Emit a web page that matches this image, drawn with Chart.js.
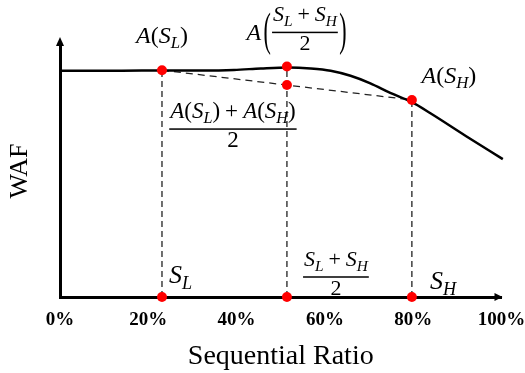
<!DOCTYPE html>
<html lang="en">
<head>
    <meta charset="UTF-8">
    <title>WAF vs Sequential Ratio</title>
    <script src="https://cdn.jsdelivr.net/npm/chart.js"></script>
    <style>
        body { margin: 0; background: #fff; }
        canvas { display: block; }
    </style>
</head>
<body>
    <canvas id="wafChart" width="525" height="373"></canvas>

    <script>
        // x ticks (percent)
        const xTicks = [0, 20, 40, 60, 80, 100];

        // WAF curve (x in %, y in arbitrary units 0-100)
        const curveX = [0, 14, 23.1, 32, 39.4, 45.5, 51.7, 56.8, 61.3, 65.8, 70.3, 74.8, 79.7, 83.9, 92, 100.3];
        const curveY = [89.8, 89.8, 89.9, 89.9, 90.1, 90.7, 91.1, 90.7, 89.8, 87.8, 84.8, 81.0, 77.3, 72.9, 63.8, 54.7];

        // marked points: S_L, (S_L+S_H)/2, S_H
        const markX = [23.1, 51.4, 79.7];
        const markY = [90.0, 91.5, 78.2];
        // chord value at the midpoint: (A(S_L) + A(S_H)) / 2
        const chordMid = 84.1;

        const FONT = '"Liberation Serif", "Times New Roman", serif';

        function parseMath(s) {
            const out = [];
            for (let i = 0; i < s.length; i++) {
                if (s[i] === "_") {
                    out.push({ t: s[i + 1], sub: true });
                    i++;
                } else {
                    out.push({ t: s[i], sub: false });
                }
            }
            return out;
        }

        function tokFont(tok, size) {
            const sz = tok.sub ? size * 0.7 : size;
            const it = /[A-Za-z]/.test(tok.t) ? "italic " : "";
            return it + sz + "px " + FONT;
        }

        function mathWidth(ctx, s, size) {
            let w = 0;
            parseMath(s).forEach(tok => {
                ctx.font = tokFont(tok, size);
                w += tok.t === " " ? size * 0.22 : ctx.measureText(tok.t).width;
            });
            return w;
        }

        function drawMath(ctx, s, x, y, size, align) {
            const w = mathWidth(ctx, s, size);
            let cx = align === "center" ? x - w / 2 : (align === "right" ? x - w : x);
            ctx.textAlign = "left";
            ctx.textBaseline = "alphabetic";
            parseMath(s).forEach(tok => {
                ctx.font = tokFont(tok, size);
                if (tok.t === " ") { cx += size * 0.22; return; }
                ctx.fillText(tok.t, cx, y + (tok.sub ? size * 0.22 : 0));
                cx += ctx.measureText(tok.t).width;
            });
            return w;
        }

        function drawFrac(ctx, num, den, cx, lineY, size) {
            const w = mathWidth(ctx, num, size);
            ctx.fillRect(cx - w / 2 - 1, lineY - 0.75, w + 2, 1.5);
            drawMath(ctx, num, cx, lineY - size * 0.5, size, "center");
            drawMath(ctx, den, cx, lineY + size * 0.8, size, "center");
            return w;
        }

        // tall thin bracket: normal glyph stretched vertically
        function drawParen(ctx, ch, x, midY, size, stretch) {
            ctx.save();
            ctx.font = size + "px " + FONT;
            ctx.textAlign = "center";
            ctx.textBaseline = "middle";
            ctx.translate(x, midY);
            ctx.scale(1, stretch);
            ctx.fillText(ch, 0, 0);
            ctx.restore();
        }

        const annotations = {
            id: "annotations",
            afterDraw(chart) {
                const ctx = chart.ctx;
                const xs = chart.scales.x, ys = chart.scales.y;
                const area = chart.chartArea;
                const xL = xs.getPixelForValue(markX[0]);
                const xM = xs.getPixelForValue(markX[1]);
                const xH = xs.getPixelForValue(markX[2]);
                const y0 = ys.getPixelForValue(0);
                const yAL = ys.getPixelForValue(markY[0]);
                const yAM = ys.getPixelForValue(markY[1]);
                const yAH = ys.getPixelForValue(markY[2]);
                const yC = ys.getPixelForValue(chordMid);

                ctx.save();
                ctx.fillStyle = "#000";

                // axis arrows
                ctx.beginPath();
                ctx.moveTo(area.left, area.top - 8);
                ctx.lineTo(area.left - 4, area.top + 1);
                ctx.lineTo(area.left + 4, area.top + 1);
                ctx.closePath();
                ctx.fill();
                ctx.beginPath();
                ctx.moveTo(area.right + 1, area.bottom);
                ctx.lineTo(area.right - 7, area.bottom - 4);
                ctx.lineTo(area.right - 7, area.bottom + 4);
                ctx.closePath();
                ctx.fill();

                // A(S_L)
                drawMath(ctx, "A(S_L)", xL, yAL - 27, 24, "center");

                // A((S_L + S_H)/2)
                const fcx = xM + 18, fly = yAM - 34;
                const fw = drawFrac(ctx, "S_L + S_H", "2", fcx, fly, 22);
                drawParen(ctx, "(", fcx - fw / 2 - 6, fly, 22, 2.1);
                drawParen(ctx, ")", fcx + fw / 2 + 6, fly, 22, 2.1);
                drawMath(ctx, "A", fcx - fw / 2 - 12, fly + 8, 24, "right");

                // (A(S_L) + A(S_H)) / 2
                drawFrac(ctx, "A(S_L) + A(S_H)", "2", xM - 54, yC + 44, 23);

                // A(S_H)
                drawMath(ctx, "A(S_H)", xH + 37, yAH - 17, 24, "center");

                // axis labels S_L, (S_L+S_H)/2, S_H
                drawMath(ctx, "S_L", xL + 7, y0 - 14, 26, "left");
                drawFrac(ctx, "S_L + S_H", "2", xM + 49, y0 - 20, 22);
                drawMath(ctx, "S_H", xH + 18, y0 - 8, 26, "left");

                ctx.restore();
            }
        };

        const ctx = document.getElementById("wafChart").getContext("2d");

        const dashed = (x, y) => ({
            data: [{ x: x, y: 0 }, { x: x, y: y }],
            borderColor: "#222",
            borderWidth: 1.3,
            borderDash: [6, 4],
            pointRadius: 0,
            fill: false,
            clip: false,
        });

        new Chart(ctx, {
            type: "line",
            data: {
                datasets: [
                    {
                        label: "points",
                        data: markX.map(x => ({ x: x, y: 0 }))
                            .concat(markX.map((x, i) => ({ x: x, y: markY[i] })))
                            .concat([{ x: markX[1], y: chordMid }]),
                        showLine: false,
                        pointRadius: 5,
                        pointBackgroundColor: "#ff0000",
                        pointBorderWidth: 0,
                        clip: false,
                    },
                    {
                        label: "WAF",
                        data: curveX.map((x, i) => ({ x: x, y: curveY[i] })),
                        borderColor: "#000",
                        borderWidth: 2.5,
                        pointRadius: 0,
                        cubicInterpolationMode: "monotone",
                        fill: false,
                        clip: false,
                    },
                    {
                        label: "chord",
                        data: [{ x: markX[0], y: markY[0] }, { x: markX[2], y: markY[2] }],
                        borderColor: "#222",
                        borderWidth: 1.3,
                        borderDash: [7, 5],
                        pointRadius: 0,
                        fill: false,
                    },
                    dashed(markX[0], markY[0]),
                    dashed(markX[1], markY[1]),
                    dashed(markX[2], markY[2]),
                ],
            },
            options: {
                responsive: false,
                animation: false,
                layout: { padding: { top: 45, right: 23.5, left: 0, bottom: 0 } },
                plugins: {
                    legend: { display: false },
                    tooltip: { enabled: false },
                },
                scales: {
                    x: {
                        type: "linear",
                        min: 0,
                        max: 100,
                        afterBuildTicks: scale => { scale.ticks = xTicks.map(v => ({ value: v })); },
                        afterFit: scale => {
                            scale.height = 76;
                            scale.paddingLeft = 0;
                            scale.paddingRight = 0;
                        },
                        grid: { display: false, drawTicks: false },
                        border: { color: "#000", width: 3 },
                        ticks: {
                            callback: v => v + "%",
                            color: "#000",
                            padding: 12,
                            maxRotation: 0,
                            font: { family: FONT, size: 19, weight: "bold" },
                        },
                        title: {
                            display: true,
                            text: "Sequential Ratio",
                            color: "#000",
                            padding: { top: 4, bottom: 0 },
                            font: { family: FONT, size: 28 },
                        },
                    },
                    y: {
                        min: 0,
                        max: 100,
                        afterFit: scale => { scale.width = 60; },
                        grid: { display: false, drawTicks: false },
                        border: { color: "#000", width: 3 },
                        ticks: { display: false },
                        title: {
                            display: true,
                            text: "WAF",
                            color: "#000",
                            padding: { top: 5, bottom: 0 },
                            font: { family: FONT, size: 26 },
                        },
                    },
                },
            },
            plugins: [annotations],
        });
    </script>
</body>
</html>
